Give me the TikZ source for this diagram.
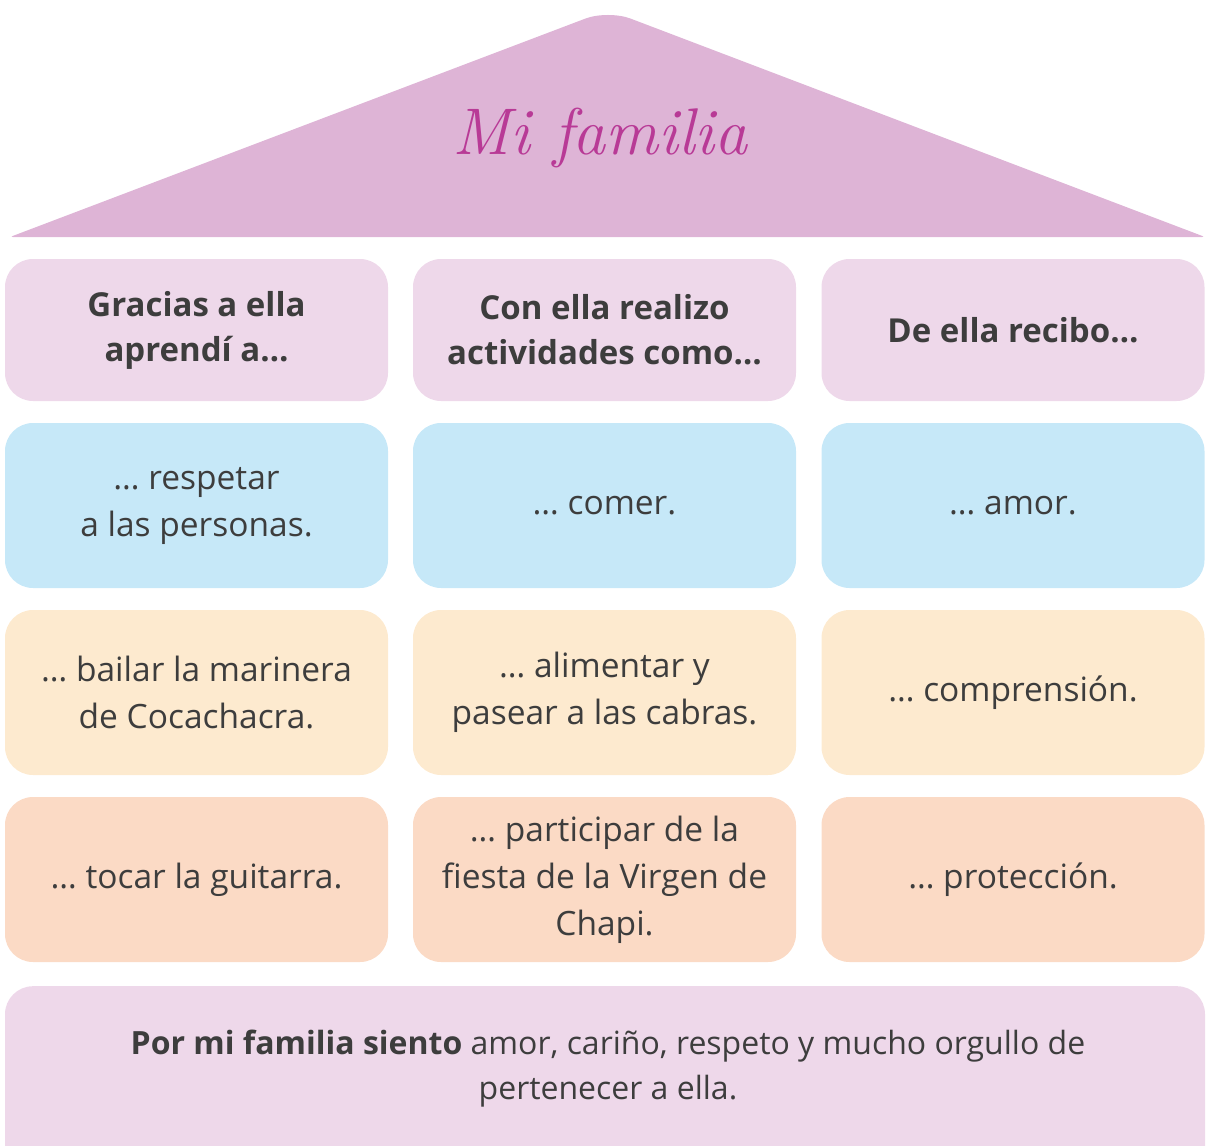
\documentclass[tikz,border=0pt]{standalone}
\usepackage{fontspec}
\setsansfont{Open Sans}

\definecolor{techo}{HTML}{DEB4D6}
\definecolor{rosa}{HTML}{EED8EA}
\definecolor{celeste}{HTML}{C6E8F8}
\definecolor{crema}{HTML}{FDEACF}
\definecolor{durazno}{HTML}{FBDAC5}
\definecolor{magenta}{HTML}{B83A96}
\definecolor{texto}{HTML}{3D3D3D}

\tikzset{
    caja/.style={rounded corners=28pt, minimum width=383pt, minimum height=165pt,
        inner sep=0pt, align=center, text=texto,
        font=\sffamily\fontsize{33.5}{47}\selectfont},
    cabeza/.style={caja, fill=rosa, minimum height=142pt,
        font=\sffamily\bfseries\fontsize{33}{45}\selectfont},
}

\begin{document}
\begin{tikzpicture}[x=1pt, y=-1pt]

    \useasboundingbox (0,0) rectangle (1208,1146);

    % -- Techo --
    \fill[techo] (10,237) [rounded corners=24pt] -- (608,10) [rounded corners=3pt] -- (1205,237) -- cycle;
    \node[font=\rmfamily\itshape\fontsize{66}{66}\selectfont, text=magenta] (titulo) at (600,138) {Mi familia};

    % -- Encabezados --
    \node[cabeza] (c1) at (196.5,330) {Gracias a ella\\aprendí a…};
    \node[cabeza] (c2) at (604.5,330) {Con ella realizo\\actividades como…};
    \node[cabeza] (c3) at (1013,330) {De ella recibo…};

    % -- Fila celeste --
    \node[caja, fill=celeste] (a1) at (196.5,505.5) {… respetar\\a las personas.};
    \node[caja, fill=celeste] (a2) at (604.5,505.5) {… comer.};
    \node[caja, fill=celeste] (a3) at (1013,505.5) {… amor.};

    % -- Fila crema --
    \node[caja, fill=crema] (b1) at (196.5,692.5) {… bailar la marinera\\de Cocachacra.};
    \node[caja, fill=crema] (b2) at (604.5,692.5) {… alimentar y\\pasear a las cabras.};
    \node[caja, fill=crema] (b3) at (1013,692.5) {… comprensión.};

    % -- Fila durazno --
    \node[caja, fill=durazno] (d1) at (196.5,879.5) {… tocar la guitarra.};
    \node[caja, fill=durazno] (d2) at (604.5,879.5) {… participar de la\\fiesta de la Virgen de\\Chapi.};
    \node[caja, fill=durazno] (d3) at (1013,879.5) {… protección.};

    % -- Conclusion --
    \node[caja, fill=rosa, minimum width=1200pt, minimum height=200pt, anchor=north] (pie) at (605,986) {};
    \node[align=center, text=texto, font=\sffamily\fontsize{32}{45}\selectfont] (frase) at (608,1069)
        {\textbf{Por mi familia siento} amor, cariño, respeto y mucho orgullo de\\pertenecer a ella.};

\end{tikzpicture}
\end{document}
